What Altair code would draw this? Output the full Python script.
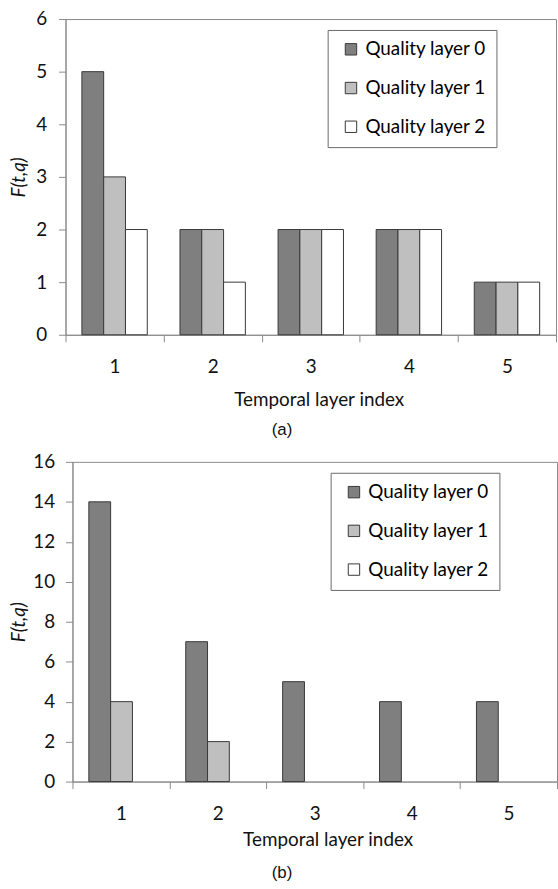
import altair as alt
import pandas as pd

categories = [1, 2, 3, 4, 5]
series_names = ["Quality layer 0", "Quality layer 1", "Quality layer 2"]
series_colors = ["#7F7F7F", "#BFBFBF", "#FFFFFF"]

# panel (a)
a_q0 = [5, 2, 2, 2, 1]
a_q1 = [3, 2, 2, 2, 1]
a_q2 = [2, 1, 2, 2, 1]
# panel (b)
b_q0 = [14, 7, 5, 4, 4]
b_q1 = [4, 2, 0, 0, 0]
b_q2 = [0, 0, 0, 0, 0]

y_ticks_a = [0, 1, 2, 3, 4, 5, 6]
y_ticks_b = [0, 2, 4, 6, 8, 10, 12, 14, 16]

FONT = "Lato"


def long_df(series):
    rows = []
    for name, vals in zip(series_names, series):
        for c, v in zip(categories, vals):
            rows.append({"t": c, "q": name, "value": v})
    return pd.DataFrame(rows)


def panel(df, ticks, w, h, caption, lx, ly, cap_dx, cap_off, x_tp, y_lp, y_tp, title_dx):
    return (
        alt.Chart(df)
        .transform_filter("datum.value > 0")
        .mark_bar(stroke="#383838", strokeWidth=1)
        .encode(
            x=alt.X(
                "t:N",
                scale=alt.Scale(paddingInner=0, paddingOuter=0),
                axis=alt.Axis(
                    title="Temporal layer index",
                    labelAngle=0,
                    tickBand="extent",
                    tickSize=7,
                    labelPadding=16,
                    titlePadding=x_tp,
                    titleX=w / 2 + title_dx,
                    titleAnchor="middle",
                ),
            ),
            xOffset=alt.XOffset(
                "q:N",
                scale=alt.Scale(domain=series_names, paddingInner=0, paddingOuter=0.75),
            ),
            y=alt.Y(
                "value:Q",
                scale=alt.Scale(domain=[ticks[0], ticks[-1]], nice=False),
                axis=alt.Axis(
                    title="F(t,q)",
                    values=ticks,
                    tickSize=7,
                    labelPadding=y_lp,
                    titlePadding=y_tp,
                    titleFontStyle="italic",
                    grid=False,
                ),
            ),
            color=alt.Color(
                "q:N",
                scale=alt.Scale(domain=series_names, range=series_colors),
                legend=alt.Legend(
                    title=None,
                    orient="none",
                    legendX=lx,
                    legendY=ly,
                    strokeColor="#6a6a6a",
                    fillColor="white",
                    padding=10,
                    symbolType="square",
                    symbolSize=132,
                    symbolOffset=4,
                    symbolStrokeColor="#383838",
                    symbolStrokeWidth=1,
                    labelFontSize=19,
                    labelFont=FONT,
                    labelColor="#000",
                    labelOffset=5,
                    rowPadding=19,
                ),
            ),
        )
        .properties(
            width=w,
            height=h,
            title=alt.TitleParams(
                caption,
                orient="bottom",
                anchor="middle",
                dx=cap_dx,
                offset=cap_off,
                fontSize=17,
                font="Liberation Sans",
                fontWeight="normal",
                color="#111",
            ),
        )
    )


def spacer():
    return (
        alt.Chart(pd.DataFrame({"s": [0]}))
        .mark_rect(opacity=0)
        .encode(x=alt.value(0), x2=alt.value(0), y=alt.value(0), y2=alt.value(0))
        .properties(width=1, height=1, view=alt.ViewBackground(strokeOpacity=0, strokeWidth=0))
    )


def row(ch):
    return (
        alt.hconcat(spacer(), ch, spacing=0)
        .resolve_scale(color="independent")
        .resolve_legend(color="independent")
    )


top = panel(long_df([a_q0, a_q1, a_q2]), y_ticks_a, 494, 318, "(a)",
            264, 11, -29, 13, 14, 12, 7, 8)
bottom = panel(long_df([b_q0, b_q1, b_q2]), y_ticks_b, 488, 322, "(b)",
               260, 11, -33, 16, 7, 11, 4, 13)

chart = (
    alt.vconcat(row(top), row(bottom), spacing=13)
    .resolve_scale(color="independent")
    .resolve_legend(color="independent")
    .properties(padding={"left": 8, "top": 6, "right": 0, "bottom": 0})
    .configure_view(stroke="#8a8a8a", strokeWidth=1)
    .configure_axis(
        domainColor="#8a8a8a",
        tickColor="#8a8a8a",
        labelFont=FONT,
        titleFont=FONT,
        labelFontSize=19,
        titleFontSize=19,
        titleFontWeight="normal",
        labelColor="#111",
        titleColor="#111",
    )
)

chart.save("out.html", embed_options={"renderer": "svg", "actions": False})
